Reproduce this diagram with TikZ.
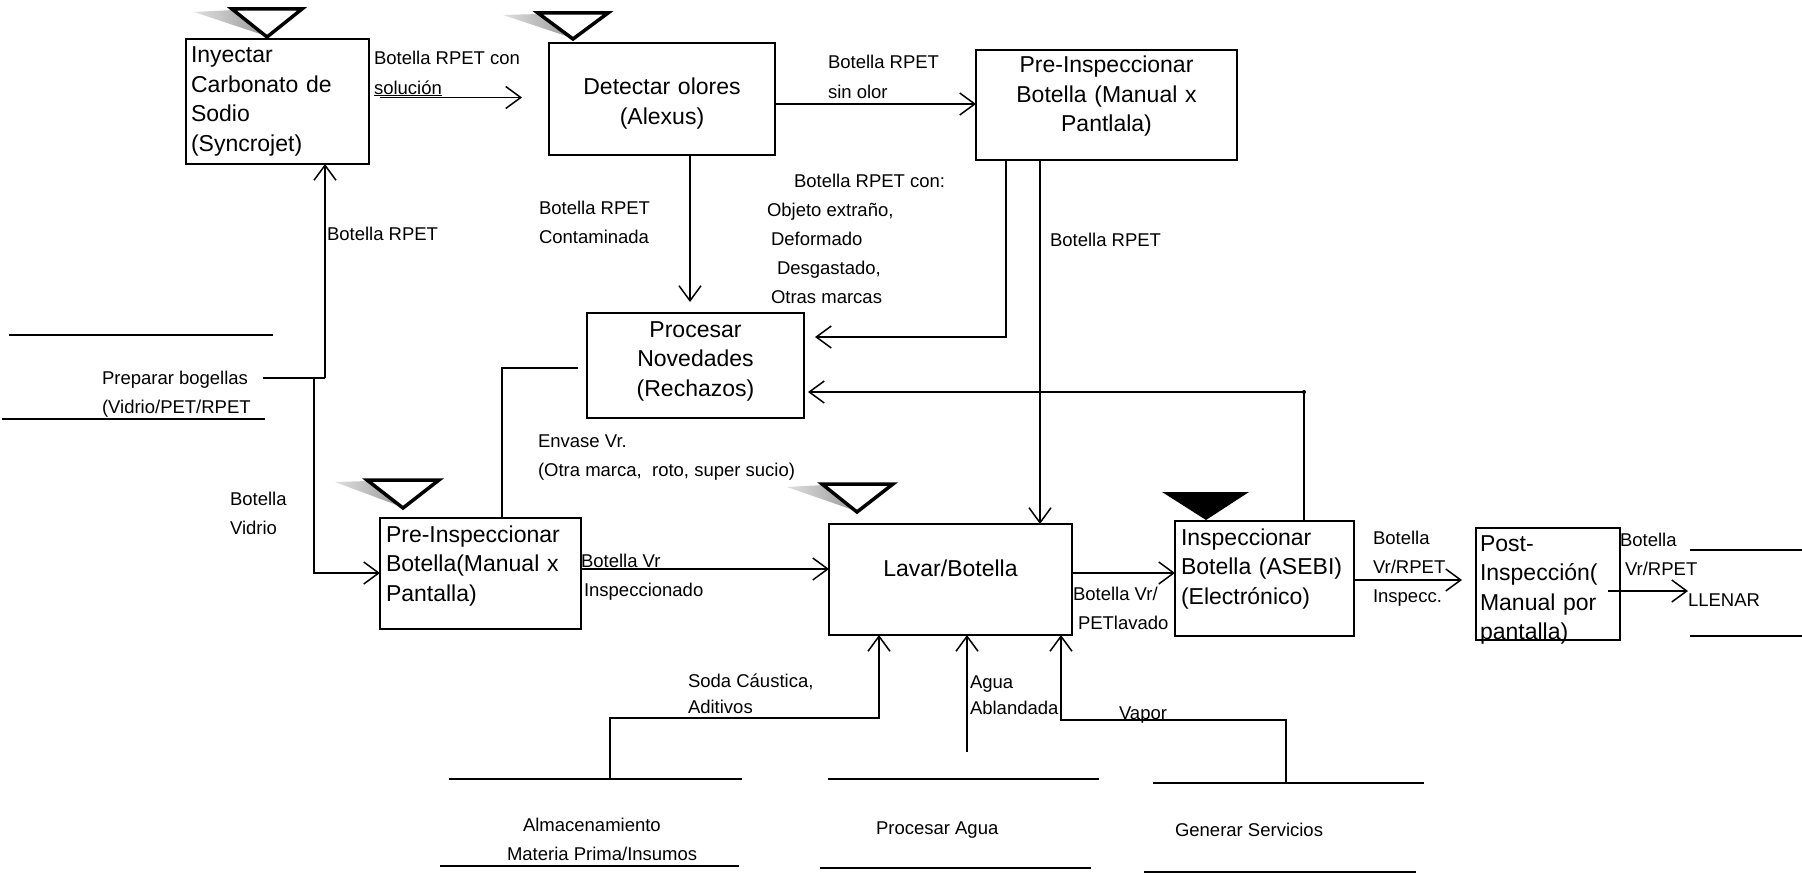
\documentclass[tikz,border=0pt]{standalone}
\usepackage{fontspec}
\setmainfont{Liberation Sans}
\usetikzlibrary{arrows.meta,calc}
\begin{document}
\begin{tikzpicture}[x=1pt,y=-1pt,
  lbl/.style={font=\fontsize{18.5}{29}\selectfont, inner sep=0pt, outer sep=0pt, anchor=base west, align=left},
  pbox/.style={draw, line width=1.8pt, inner ysep=0pt, outer sep=0pt, anchor=north west, font=\fontsize{23}{29.5}\selectfont},
  arr/.style={line width=1.5pt, -{Straight Barb[length=15pt,width=22pt,line width=1.5pt]}},
  ln/.style={line width=1.5pt},
  stor/.style={line width=1.7pt},
  tri/.style={draw, line width=3.5pt, line join=miter, fill=white},
  shad/.style={left color=gray!25, right color=gray!80, draw=none}
]
\useasboundingbox (0,0) rectangle (1802,875);
\fill[white] (0,0) rectangle (1802,875);

% ---- process boxes ----
\node[pbox, align=left, inner xsep=5pt, text width=173pt, text height=24pt, text depth=101pt] (iny) at (186,39) {Inyectar\\Carbonato de\\Sodio\\(Syncrojet)};
\node[pbox, align=center, inner xsep=5pt, text width=216pt, text height=52pt, text depth=60pt] (det) at (549,43) {Detectar olores\\(Alexus)};
\node[pbox, align=center, inner xsep=5pt, text width=251pt, text height=23pt, text depth=87pt] (pi1) at (976,50) {Pre-Inspeccionar\\Botella (Manual x\\Pantlala)};
\node[pbox, align=center, inner xsep=5pt, text width=207pt, text height=24pt, text depth=81pt] (proc) at (587,313) {Procesar\\Novedades\\(Rechazos)};
\node[pbox, align=left, inner xsep=6pt, text width=189pt, text height=24pt, text depth=87pt] (pi2) at (380,518) {Pre-Inspeccionar\\Botella(Manual x\\Pantalla)};
\node[pbox, align=center, inner xsep=5pt, text width=233pt, text height=52pt, text depth=59pt] (lav) at (829,524) {Lavar/Botella};
\node[pbox, align=left, inner xsep=6pt, text width=167pt, text height=24pt, text depth=91pt] (ase) at (1175,521) {Inspeccionar\\Botella (ASEBI)\\(Electrónico)};
\node[pbox, align=left, inner xsep=4pt, text width=136pt, text height=23pt, text depth=89pt] (post) at (1476,528) {Post-\\Inspección(\\Manual por\\pantalla)};

% ---- triangles ----
\path[shad] (194,12) -- (234,10) -- (266,36) -- cycle;
\draw[tri] (232,9) -- (302,9) -- (267,37) -- cycle;
\path[shad] (503,15) -- (540,14) -- (572,38) -- cycle;
\draw[tri] (538,13) -- (608,13) -- (573,39) -- cycle;
\path[shad] (335,482) -- (369,481) -- (402,507) -- cycle;
\draw[tri] (367,480) -- (439,480) -- (403,508) -- cycle;
\path[shad] (787,487) -- (824,485) -- (856,511) -- cycle;
\draw[tri] (822,484) -- (893,484) -- (857,512) -- cycle;
\fill[black] (1162,492) -- (1249,492) -- (1206,520) -- cycle;

% ---- storage / external texts (base = last line) ----
\node[lbl] (prep) at (102,413) {Preparar bogellas\\(Vidrio/PET/RPET};
\node[lbl] (alm) at (507,860) {\hspace*{16pt}Almacenamiento\\Materia Prima/Insumos};
\node[lbl] (agua) at (876,834) {Procesar Agua};
\node[lbl] (gen) at (1175,836) {Generar Servicios};
\node[lbl] (llenar) at (1688,606) {LLENAR};

\draw[stor] (9,335) -- (273,335);
\draw[stor] (2,419) -- (265,419);
\draw[stor] (449,779) -- (742,779);
\draw[stor] (440,866) -- (739,866);
\draw[stor] (828,779) -- (1099,779);
\draw[stor] (820,868) -- (1091,868);
\draw[stor] (1153,783) -- (1424,783);
\draw[stor] (1144,872) -- (1416,872);
\draw[stor] (1690,550) -- (1802,550);
\draw[stor] (1690,636) -- (1802,636);

% ---- connector labels (base = last line) ----
\node[lbl] (l1) at (374,94) {Botella RPET con\\\underline{solución}};
\node[lbl] (l2) at (828,98) {Botella RPET\\sin olor};
\node[lbl] (l3) at (539,243) {Botella RPET\\Contaminada};
\node[lbl] (l4) at (767,303) {\hspace*{27pt}Botella RPET con:\\Objeto extraño,\\\hspace*{4pt}Deformado\\\hspace*{10pt}Desgastado,\\\hspace*{4pt}Otras marcas};
\node[lbl] (l5) at (1050,246) {Botella RPET};
\node[lbl] (l6) at (327,240) {Botella RPET};
\node[lbl] (l8) at (230,534) {Botella\\Vidrio};
\node[lbl] (l9) at (538,476) {Envase Vr.\\(Otra marca,~ roto, super sucio)};
\node[lbl] (l10) at (581,596) {\underline{Botella Vr}\\\hspace*{3pt}Inspeccionado};
\node[lbl] (l11) at (1073,629) {Botella Vr/\\\hspace*{5pt}PETlavado};
\node[lbl] (l12) at (1373,602) {Botella\\Vr/RPET\\Inspecc.};
\node[lbl] (l13) at (1620,575) {Botella\\\hspace*{5pt}Vr/RPET};
\node[lbl] (l15) at (688,713) {Soda Cáustica,\\[-3pt]Aditivos};
\node[lbl] (l16) at (970,714) {Agua\\[-3pt]Ablandada};
\node[lbl] (l17) at (1119,719) {Vapor};

% ---- named free ends ----
\coordinate (prepout) at (263,378);
\coordinate (prepjoin) at (314,378);
\coordinate (almout) at (610,779);
\coordinate (aguaout) at (967,752);
\coordinate (genout) at (1286,783);

% ---- connectors ----
\draw[arr] ($(iny.east)+(11,-4)$) -- ($(det.west)+(-27,-1.5)$);
\draw[arr] ($(det.east)+(0,5)$) -- ($(pi1.west)+(0,-1)$);
\draw[arr] (det.south -| 690,0) -- ($(proc.north -| 690,0)+(0,-11)$);
\draw[arr] (pi1.south -| 1006,0) -- (1006,337) -- ($(proc.north east)+(11,24)$);
\draw[arr] (pi1.south -| 1040,0) -- (lav.north -| 1040,0);
\draw[arr] (ase.north -| 1304,0) -- (1304,392) -- ($(proc.north east)+(4,79)$);
\fill (1304,392) circle (2pt);
\draw[ln] (prepout) -- (325,378);
\draw[arr] (325,378) -- (iny.south -| 325,0);
\draw[arr] (prepjoin) -- (314,573) -- (pi2.west |- 0,573);
\draw[ln] (pi2.north -| 502,0) -- (502,368) -- ($(proc.west)+(-9,2.5)$);
\draw[arr] (pi2.east |- 0,569) -- (lav.west |- 0,569);
\draw[arr] (lav.east |- 0,573) -- (ase.west |- 0,573);
\draw[arr] (ase.east |- 0,580) -- ($(post.west |- 0,580)+(-14,0)$);
\draw[arr] ($(post.east |- 0,591)+(-12,0)$) -- (llenar.west |- 0,591);
\draw[arr] (almout) -- (610,718) -- (879,718) -- (lav.south -| 879,0);
\draw[arr] (aguaout) -- (lav.south -| 967,0);
\draw[arr] (genout) -- (1286,720) -- (1061,720) -- (lav.south -| 1061,0);
\end{tikzpicture}
\end{document}
